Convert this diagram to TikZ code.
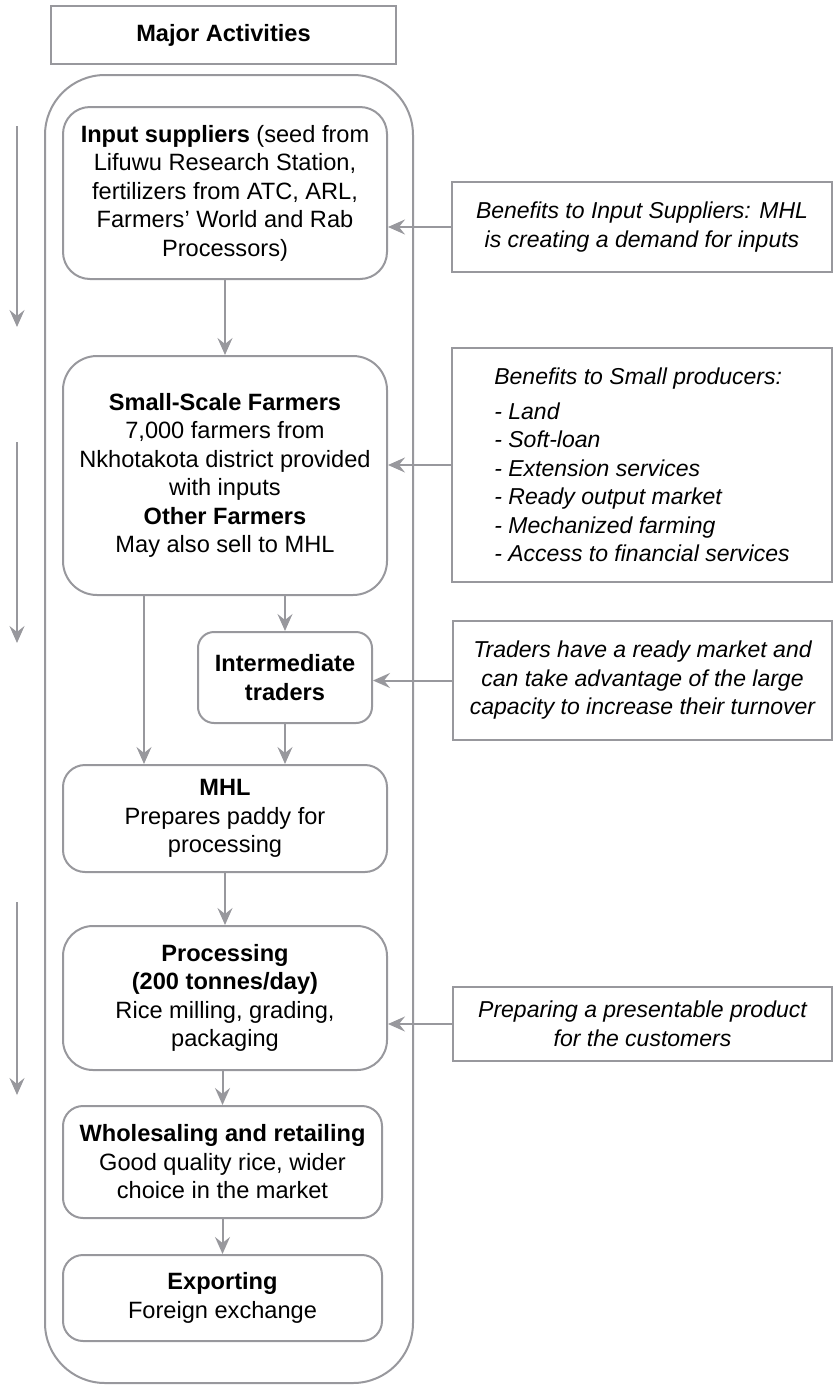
\documentclass[tikz,border=0pt]{standalone}
\usepackage{fontspec}
\setmainfont{Liberation Sans}
\usetikzlibrary{arrows.meta}
\definecolor{linegray}{RGB}{152,152,157}
\begin{document}
\begin{tikzpicture}[x=1pt,y=-1pt,
  every node/.style={font=\fontsize{23.6}{28.5}\selectfont, inner sep=0pt, align=center},
  frame/.style={draw=linegray, line width=2pt},
  flowbox/.style={frame, rounded corners=#1},
  flowbox/.default=25pt,
  notebox/.style={frame, font=\fontsize{23}{28.5}\selectfont\itshape},
  arr/.style={draw=linegray, line width=2pt, -{Stealth[length=17pt,width=15pt,inset=6pt]}}
]
\useasboundingbox (0,0) rectangle (833,1385);

% container around the value chain
\draw[frame, rounded corners=60pt] (45,75) rectangle (413,1383);

% heading
\node[frame, minimum width=345pt, minimum height=58pt,
      font=\fontsize{23.6}{28.5}\selectfont\bfseries] (major) at (223.5,35) {Major Activities};

% value chain stages
\node[flowbox=27pt, minimum width=324pt, minimum height=172pt] (inp) at (225,193)
  {\textbf{Input suppliers} (seed from\\Lifuwu Research Station,\\fertilizers from ATC, ARL,\\Farmers’ World and Rab\\Processors)};
\node[flowbox=34pt, minimum width=324pt, minimum height=239pt] (ssf) at (225,475.5)
  {\textbf{Small-Scale Farmers}\\7,000 farmers from\\Nkhotakota district provided\\with inputs\\\textbf{Other Farmers}\\May also sell to MHL};
\node[flowbox=16pt, minimum width=174pt, minimum height=91pt] (inter) at (285,677.5)
  {\textbf{Intermediate}\\\textbf{traders}};
\node[flowbox=22pt, minimum width=324pt, minimum height=107pt] (mhl) at (225,818.5)
  {\textbf{MHL}\\Prepares paddy for\\processing};
\node[flowbox=30pt, minimum width=324pt, minimum height=144pt] (proc) at (225,998)
  {\textbf{Processing}\\\textbf{(200 tonnes/day)}\\Rice milling, grading,\\packaging};
\node[flowbox=20pt, minimum width=319pt, minimum height=112pt] (whole) at (222.5,1162)
  {\textbf{Wholesaling and retailing}\\Good quality rice, wider\\choice in the market};
\node[flowbox=20pt, minimum width=319pt, minimum height=86pt] (export) at (222.5,1298)
  {\textbf{Exporting}\\Foreign exchange};

% benefit notes
\node[notebox, minimum width=380pt, minimum height=90pt] (b1) at (642,227)
  {Benefits to Input Suppliers: MHL\\is creating a demand for inputs};
\node[notebox, minimum width=380pt, minimum height=234pt, align=left] (b2) at (642,465)
  {Benefits to Small producers:\\[6pt]- Land\\- Soft-loan\\- Extension services\\- Ready output market\\- Mechanized farming\\- Access to financial services};
\node[notebox, minimum width=379pt, minimum height=119pt] (b3) at (642.5,680.5)
  {Traders have a ready market and\\can take advantage of the large\\capacity to increase their turnover};
\node[notebox, minimum width=379pt, minimum height=74pt] (b4) at (642.5,1024)
  {Preparing a presentable product\\for the customers};

% flow connectors
\coordinate (direct) at (144,0);
\draw[arr] (inp.south) -- (ssf.north);
\draw[arr] (inter.north |- ssf.south) -- (inter.north);
\draw[arr] (ssf.south -| direct) -- (mhl.north -| direct);
\draw[arr] (inter.south) -- (inter.south |- mhl.north);
\draw[arr] (mhl.south) -- (proc.north);
\draw[arr] (whole.north |- proc.south) -- (whole.north);
\draw[arr] (whole.south) -- (export.north);

% benefits pointing at their stage
\draw[arr] (b1.west) -- (b1.west -| inp.east);
\draw[arr] (b2.west) -- (b2.west -| ssf.east);
\draw[arr] (b3.west) -- (b3.west -| inter.east);
\draw[arr] (b4.west) -- (b4.west -| proc.east);

% phase arrows on the left margin
\coordinate (p1a) at (17,126);  \coordinate (p1b) at (17,327);
\coordinate (p2a) at (17,442);  \coordinate (p2b) at (17,643);
\coordinate (p3a) at (17,902);  \coordinate (p3b) at (17,1095);
\draw[arr] (p1a) -- (p1b);
\draw[arr] (p2a) -- (p2b);
\draw[arr] (p3a) -- (p3b);
\end{tikzpicture}
\end{document}
